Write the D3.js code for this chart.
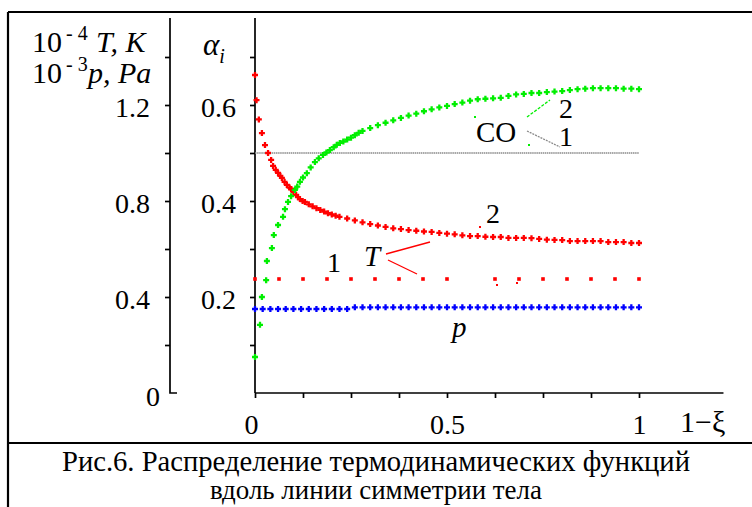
<!DOCTYPE html>
<html>
<head>
<meta charset="utf-8">
<script src="https://cdn.jsdelivr.net/npm/d3@7"></script>
<style>
  body { margin: 0; background: #fff; }
  svg { display: block; }
  .axis path, .axis line { stroke: #000; stroke-width: 1.7; }
</style>
</head>
<body>
<div id="chart"></div>
<script>
// 1-xi along the body symmetry line
// CO concentration, curve 1 (gray line) and curve 2 (green)
const coLine = [[0, 0.5], [1, 0.5]];
const coXi = [0, 0.013, 0.018, 0.029, 0.031, 0.044, 0.049, 0.06, 0.073, 0.078, 0.086, 0.094,
  0.104, 0.11, 0.117, 0.125, 0.135, 0.145, 0.156, 0.166, 0.177, 0.186, 0.195, 0.205, 0.213,
  0.221, 0.23, 0.24, 0.25, 0.26, 0.27, 0.28, 0.3, 0.32, 0.34, 0.36, 0.38, 0.4, 0.42, 0.44,
  0.46, 0.48, 0.5, 0.52, 0.54, 0.56, 0.58, 0.6, 0.62, 0.64, 0.66, 0.68, 0.7, 0.72, 0.74,
  0.76, 0.78, 0.8, 0.82, 0.84, 0.86, 0.88, 0.9, 0.92, 0.94, 0.96, 0.98, 1];
const coAlpha = [0.075, 0.142, 0.2, 0.235, 0.275, 0.302, 0.329, 0.35, 0.367, 0.383, 0.398, 0.41,
  0.423, 0.43, 0.44, 0.449, 0.458, 0.47, 0.481, 0.489, 0.496, 0.501, 0.506, 0.512, 0.517,
  0.521, 0.524, 0.528, 0.532, 0.537, 0.542, 0.546, 0.552, 0.558, 0.563, 0.568, 0.573, 0.578, 0.582, 0.587,
  0.591, 0.595, 0.598, 0.602, 0.605, 0.609, 0.612, 0.613, 0.614, 0.615, 0.619, 0.622, 0.623, 0.625, 0.625,
  0.627, 0.628, 0.629, 0.631, 0.633, 0.634, 0.635, 0.635, 0.635, 0.635, 0.634, 0.634, 0.633];

// temperature 10^-4 T, curve 2 (red crosses)
const tXi = [0, 0.004, 0.01, 0.018, 0.026, 0.034, 0.042, 0.047, 0.054, 0.06, 0.066, 0.07, 0.077,
  0.083, 0.09, 0.094, 0.1, 0.107, 0.112, 0.117, 0.124, 0.13, 0.14, 0.15, 0.16, 0.17, 0.18, 0.19, 0.2, 0.21,
  0.22, 0.24, 0.26, 0.28, 0.3, 0.32, 0.34, 0.36, 0.38, 0.4, 0.42, 0.44, 0.46, 0.48, 0.5, 0.52, 0.54,
  0.56, 0.58, 0.6, 0.62, 0.64, 0.66, 0.68, 0.7, 0.72, 0.74, 0.76, 0.78, 0.8, 0.82, 0.84, 0.86,
  0.88, 0.9, 0.92, 0.94, 0.96, 0.98, 1];
const tVal = [1.325, 1.22, 1.14, 1.083, 1.033, 1.0, 0.971, 0.946, 0.93, 0.917, 0.905, 0.896, 0.88,
  0.867, 0.856, 0.85, 0.838, 0.825, 0.816, 0.808, 0.8, 0.796, 0.786, 0.778, 0.77, 0.763, 0.756, 0.749, 0.744, 0.739,
  0.734, 0.727, 0.719, 0.711, 0.704, 0.698, 0.692, 0.686, 0.683, 0.679, 0.676, 0.673, 0.671, 0.667, 0.664, 0.661, 0.657,
  0.654, 0.654, 0.651, 0.65, 0.65, 0.646, 0.646, 0.646, 0.645, 0.642, 0.639, 0.638, 0.637, 0.633, 0.633, 0.633,
  0.633, 0.633, 0.629, 0.629, 0.629, 0.625, 0.625];

// temperature, curve 1 (red dots)
const t1Xi = [0, 0.0625, 0.125, 0.1875, 0.25, 0.3125, 0.375, 0.4375, 0.5,
  0.625, 0.6875, 0.75, 0.8125, 0.875, 0.9375, 1];
const t1Val = [0.475, 0.475, 0.475, 0.475, 0.475, 0.475, 0.475, 0.475, 0.475,
  0.475, 0.475, 0.475, 0.475, 0.475, 0.475, 0.475];

// pressure 10^-3 p (blue crosses)
const pXi = [0, 0.02, 0.04, 0.06, 0.08, 0.1, 0.12, 0.14, 0.16, 0.18, 0.2, 0.22, 0.24,
  0.26, 0.28, 0.3, 0.32, 0.34, 0.36, 0.38, 0.4, 0.42, 0.44, 0.46, 0.48, 0.5, 0.52, 0.54, 0.56,
  0.58, 0.6, 0.62, 0.64, 0.66, 0.68, 0.7, 0.72, 0.74, 0.76, 0.78, 0.8, 0.82, 0.84, 0.86, 0.88,
  0.9, 0.92, 0.94, 0.96, 0.98, 1];
const pVal = [0.35, 0.35, 0.35, 0.35, 0.35, 0.35, 0.35, 0.35, 0.35, 0.35, 0.35, 0.35, 0.35,
  0.357, 0.357, 0.357, 0.357, 0.357, 0.357, 0.357, 0.357, 0.357, 0.357, 0.357, 0.357, 0.357, 0.357, 0.357, 0.357,
  0.357, 0.357, 0.357, 0.357, 0.357, 0.357, 0.357, 0.357, 0.357, 0.357, 0.357, 0.357, 0.357, 0.357, 0.357, 0.357,
  0.357, 0.357, 0.357, 0.357, 0.357, 0.357];

const xTicks = [0, 0.125, 0.25, 0.375, 0.5, 0.625, 0.75, 0.875, 1];
const xLabels = [0, 0.5, 1];
const leftTicks = [0.2, 0.4, 0.6, 0.8, 1.0, 1.2, 1.4];
const leftLabels = [0.4, 0.8, 1.2];
const alphaTicks = [0.1, 0.2, 0.3, 0.4, 0.5, 0.6, 0.7];
const alphaLabels = [0.2, 0.4, 0.6];

const W = 752, H = 507;
const svg = d3.select("#chart").append("svg").attr("width", W).attr("height", H)
  .attr("font-family", "Liberation Serif");

// Scales
const x = d3.scaleLinear().domain([0, 1]).range([255, 639]);
const yL = d3.scaleLinear().domain([0, 1.4]).range([393, 57]);
const yA = d3.scaleLinear().domain([0, 0.7]).range([393, 57]);

// Frame
const frame = svg.append("g").attr("stroke", "#000").attr("stroke-width", 2.2);
frame.append("line").attr("x1", 8).attr("x2", W).attr("y1", 12).attr("y2", 12);
frame.append("line").attr("x1", 8).attr("x2", 8).attr("y1", 12).attr("y2", H);
frame.append("line").attr("x1", 8).attr("x2", W).attr("y1", 443).attr("y2", 443);

const fmt = d => d3.format(".1f")(d);

// Left axis (T, p)
const gl = svg.append("g").attr("class", "axis").attr("transform", "translate(170,0)")
  .call(d3.axisLeft(yL).tickValues(leftTicks).tickSize(5).tickSizeOuter(0)
    .tickFormat(d => leftLabels.includes(d) ? fmt(d) : "").tickPadding(15));
gl.select(".domain").attr("d", `M0,18V${yL(0)}H7`);
gl.selectAll(".tick text").attr("dy", "0.4em");
gl.append("text").attr("x", -10).attr("y", yL(0) + 13).attr("text-anchor", "end").text("0");

// Alpha axis
const ga = svg.append("g").attr("class", "axis").attr("transform", `translate(${x(0)},0)`)
  .call(d3.axisLeft(yA).tickValues(alphaTicks).tickSize(5).tickSizeOuter(0)
    .tickFormat(d => alphaLabels.includes(d) ? fmt(d) : "").tickPadding(14));
ga.select(".domain").attr("d", `M0,18V${yA(0)}`);
ga.selectAll(".tick text").attr("dy", "0.4em");

// Bottom axis
const gb = svg.append("g").attr("class", "axis").attr("transform", `translate(0,${yL(0)})`)
  .call(d3.axisBottom(x).tickValues(xTicks).tickSize(5).tickSizeOuter(0)
    .tickFormat(d => xLabels.includes(d) ? (d === 0.5 ? "0.5" : String(d)) : "").tickPadding(12));
gb.select(".domain").attr("d", `M${x(0)},0H${x(1.22)}`);
gb.selectAll(".tick text").attr("dy", "0.85em").attr("dx", d => d === 0 ? -4 : 0);

svg.selectAll(".axis").attr("font-family", "Liberation Serif").attr("font-size", 28);
svg.selectAll(".axis text").attr("fill", "#000");

// Axis titles
const t1 = svg.append("text").attr("x", 32).attr("y", 52).attr("font-size", 30);
t1.append("tspan").text("10");
t1.append("tspan").attr("x", 66).attr("dy", -12).attr("font-size", 20).text("- 4");
t1.append("tspan").attr("x", 96).attr("dy", 12).attr("font-style", "italic").text("T, K");
const t2 = svg.append("text").attr("x", 32).attr("y", 83).attr("font-size", 30);
t2.append("tspan").text("10");
t2.append("tspan").attr("x", 66).attr("dy", -12).attr("font-size", 20).text("- 3");
t2.append("tspan").attr("x", 88).attr("dy", 12).attr("font-style", "italic").text("p, Pa");

const ta = svg.append("text").attr("x", 203).attr("y", 55).attr("font-size", 31).attr("font-style", "italic");
ta.append("tspan").text("α");
ta.append("tspan").attr("dy", 8).attr("font-size", 20).text("i");

svg.append("text").attr("x", 680).attr("y", 432).attr("font-size", 30).text("1−ξ");

// Marks
const plus = "M-3,0H3M0,-3V3";

svg.append("path")
  .datum(coLine)
  .attr("fill", "none").attr("stroke", "#8a8a8a").attr("stroke-width", 1.6)
  .attr("stroke-dasharray", "1.5,0.6")
  .attr("d", d3.line().x(d => x(d[0])).y(d => yA(d[1])));

svg.append("g").selectAll("path")
  .data(d3.zip(pXi, pVal)).join("path")
  .attr("transform", d => `translate(${x(d[0])},${yL(d[1])})`)
  .attr("d", plus).attr("stroke", "#0000ff").attr("stroke-width", 2.3);

svg.append("g").selectAll("rect")
  .data(d3.zip(t1Xi, t1Val)).join("rect")
  .attr("x", d => x(d[0]) - 1.8).attr("y", d => yL(d[1]) - 1.8)
  .attr("width", 3.6).attr("height", 3.6).attr("fill", "#ff0000");

svg.append("g").selectAll("path")
  .data(d3.zip(tXi, tVal)).join("path")
  .attr("transform", d => `translate(${x(d[0])},${yL(d[1])})`)
  .attr("d", plus).attr("stroke", "#ff0000").attr("stroke-width", 2.3);

svg.append("g").selectAll("path")
  .data(d3.zip(coXi, coAlpha)).join("path")
  .attr("transform", d => `translate(${x(d[0])},${yA(d[1])})`)
  .attr("d", plus).attr("stroke", "#00ee00").attr("stroke-width", 2.3);

// Curve annotations
svg.append("text").attr("x", 476).attr("y", 142).attr("font-size", 29).text("CO");
svg.append("text").attr("x", 559).attr("y", 118).attr("font-size", 28).text("2");
svg.append("text").attr("x", 559).attr("y", 146).attr("font-size", 28).text("1");
svg.append("line").attr("x1", 527).attr("y1", 117).attr("x2", 550).attr("y2", 100)
  .attr("stroke", "#00ee00").attr("stroke-width", 1.3).attr("stroke-dasharray", "3,1.5");
svg.append("line").attr("x1", 527).attr("y1", 131).attr("x2", 560).attr("y2", 147)
  .attr("stroke", "#8a8a8a").attr("stroke-width", 1.3).attr("stroke-dasharray", "2,1");
svg.append("rect").attr("x", 474).attr("y", 116).attr("width", 2).attr("height", 2).attr("fill", "#00ee00");
svg.append("rect").attr("x", 528).attr("y", 144).attr("width", 2).attr("height", 2).attr("fill", "#00ee00");

svg.append("text").attr("x", 364).attr("y", 266).attr("font-size", 29).attr("font-style", "italic").text("T");
svg.append("text").attr("x", 327).attr("y", 272).attr("font-size", 28).text("1");
svg.append("text").attr("x", 486).attr("y", 223).attr("font-size", 28).text("2");
svg.append("line").attr("x1", 386).attr("y1", 254).attr("x2", 430).attr("y2", 242)
  .attr("stroke", "#ff0000").attr("stroke-width", 1.3);
svg.append("line").attr("x1", 388).attr("y1", 260).attr("x2", 417).attr("y2", 274)
  .attr("stroke", "#ff0000").attr("stroke-width", 1.3);
svg.append("rect").attr("x", 479).attr("y", 226).attr("width", 2).attr("height", 2).attr("fill", "#ff0000");
svg.append("rect").attr("x", 496).attr("y", 284).attr("width", 2).attr("height", 2).attr("fill", "#ff0000");
svg.append("rect").attr("x", 516).attr("y", 282).attr("width", 2).attr("height", 2).attr("fill", "#ff0000");

svg.append("text").attr("x", 452).attr("y", 337).attr("font-size", 29).attr("font-style", "italic").text("p");

// Caption
svg.append("text").attr("x", 376).attr("y", 471).attr("text-anchor", "middle").attr("font-size", 29)
  .attr("textLength", 628).attr("lengthAdjust", "spacingAndGlyphs")
  .text("Рис.6. Распределение термодинамических функций");
svg.append("text").attr("x", 376).attr("y", 499).attr("text-anchor", "middle").attr("font-size", 28)
  .attr("textLength", 332).attr("lengthAdjust", "spacingAndGlyphs")
  .text("вдоль линии симметрии тела");

svg.selectAll("text").attr("font-family", "Liberation Serif");
</script>
</body>
</html>
